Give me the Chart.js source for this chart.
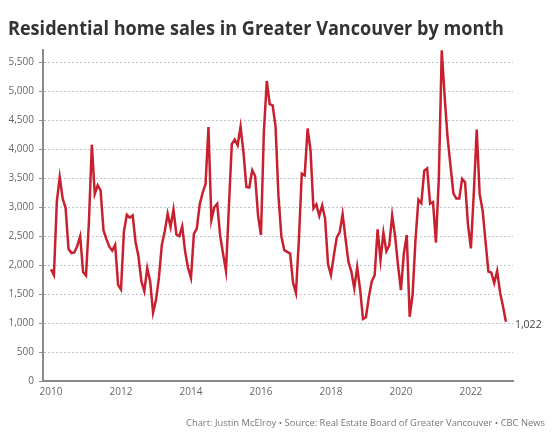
<!DOCTYPE html>
<html lang="en">
<head>
<meta charset="UTF-8">
<title>Residential home sales in Greater Vancouver by month</title>
<script src="https://cdn.jsdelivr.net/npm/chart.js@4"></script>
<style>
  html, body { margin: 0; padding: 0; background: #fff; }
  #wrap { width: 554px; height: 432px; position: relative; }
</style>
</head>
<body>
<div id="wrap"><canvas id="chart"></canvas></div>
<script>
// monthly residential sales, Jan..Dec of each year
const sales2010 = [1930, 1830, 3100, 3520, 3150, 2990, 2280, 2210, 2220, 2330, 2500, 1880];
const sales2011 = [1820, 2750, 4080, 3230, 3380, 3290, 2600, 2450, 2320, 2250, 2350, 1660];
const sales2012 = [1580, 2580, 2870, 2820, 2860, 2400, 2150, 1720, 1550, 1950, 1720, 1180];
const sales2013 = [1400, 1780, 2350, 2580, 2890, 2660, 2960, 2530, 2500, 2670, 2230, 1950];
const sales2014 = [1780, 2540, 2630, 3050, 3250, 3400, 4385, 2780, 3000, 3060, 2510, 2200];
const sales2015 = [1900, 3000, 4090, 4170, 4070, 4390, 3950, 3350, 3340, 3640, 3540, 2860];
const sales2016 = [2520, 4300, 5180, 4780, 4760, 4400, 3200, 2500, 2260, 2230, 2200, 1700];
const sales2017 = [1520, 2430, 3580, 3550, 4360, 3980, 2980, 3050, 2850, 3030, 2800, 2020];
const sales2018 = [1830, 2170, 2480, 2570, 2880, 2460, 2060, 1890, 1600, 1970, 1580, 1070];
const sales2019 = [1100, 1450, 1720, 1830, 2620, 2090, 2560, 2240, 2340, 2860, 2500, 2000];
const sales2020 = [1570, 2200, 2520, 1110, 1490, 2440, 3130, 3070, 3630, 3670, 3060, 3090];
const sales2021 = [2390, 3500, 5710, 4910, 4200, 3720, 3240, 3150, 3150, 3490, 3430, 2700];
const sales2022 = [2290, 3250, 4340, 3230, 2950, 2420, 1890, 1870, 1690, 1900, 1530, 1290];
const sales2023 = [1022];

const firstYear = 2010;
const yearTicks = [2010, 2012, 2014, 2016, 2018, 2020, 2022];
const salesTicks = [0, 500, 1000, 1500, 2000, 2500, 3000, 3500, 4000, 4500, 5000, 5500];

const titleText = "Residential home sales in Greater Vancouver by month";
const footerText = "Chart: Justin McElroy \u2022 Source: Real Estate Board of Greater Vancouver \u2022 CBC News";

const monthly = [sales2010, sales2011, sales2012, sales2013, sales2014, sales2015, sales2016,
                 sales2017, sales2018, sales2019, sales2020, sales2021, sales2022, sales2023].flat();
const points = monthly.map((v, i) => ({ x: firstYear + i / 12, y: v }));

const axisGrey = "#8a8a8a";
const labelGrey = "#666";

// title, source line and the end value label
const extras = {
    id: "extras",
    afterDraw(chart) {
        const ctx = chart.ctx;
        ctx.save();
        ctx.textAlign = "left";
        ctx.textBaseline = "alphabetic";
        ctx.fillStyle = "#333";
        ctx.font = 'bold 20px "Open Sans"';
        ctx.fillText(titleText, 8, 35, 496);

        ctx.fillStyle = "#777";
        ctx.font = '9.5px "Open Sans"';
        ctx.textAlign = "right";
        ctx.fillText(footerText, 545, 426, 359);

        const meta = chart.getDatasetMeta(0);
        const last = meta.data[meta.data.length - 1];
        ctx.fillStyle = "#444";
        ctx.font = '10.5px "Open Sans"';
        ctx.textAlign = "left";
        ctx.textBaseline = "middle";
        ctx.fillText(monthly[monthly.length - 1].toLocaleString("en-US"), last.x + 9, last.y + 3);
        ctx.restore();
    }
};

new Chart(document.getElementById("chart"), {
    type: "line",
    data: {
        datasets: [{
            data: points,
            borderColor: "#c8202f",
            borderWidth: 2.5,
            pointRadius: 0,
            tension: 0,
            fill: false
        }]
    },
    options: {
        responsive: true,
        maintainAspectRatio: false,
        animation: false,
        layout: { padding: { top: 50, right: 41, bottom: 0, left: 0 } },
        plugins: {
            legend: { display: false },
            tooltip: { enabled: false }
        },
        scales: {
            x: {
                type: "linear",
                min: 2009.771,
                max: 2023.203,
                afterBuildTicks: s => { s.ticks = yearTicks.map(v => ({ value: v })); },
                afterFit: s => { s.height = 51; },
                grid: { display: false, drawTicks: false, tickLength: 0 },
                border: { display: true, color: axisGrey, width: 2 },
                ticks: {
                    padding: 5,
                    color: labelGrey,
                    font: { family: "Open Sans", size: 10 },
                    maxRotation: 0,
                    autoSkip: false,
                    callback: v => String(v)
                }
            },
            y: {
                min: 0,
                max: 5715,
                afterBuildTicks: s => { s.ticks = salesTicks.map(v => ({ value: v })); },
                afterFit: s => { s.width = 43; },
                grid: {
                    color: c => (c.tick && c.tick.value === 0) ? "rgba(0,0,0,0)" : "#bcc5ce",
                    lineWidth: 1,
                    tickLength: 4,
                    tickColor: axisGrey,
                    tickBorderDash: []
                },
                border: { display: true, color: axisGrey, width: 2, dash: [2, 2] },
                ticks: {
                    padding: 5,
                    color: labelGrey,
                    font: { family: "Open Sans", size: 10 }
                }
            }
        }
    },
    plugins: [extras]
});
</script>
</body>
</html>
